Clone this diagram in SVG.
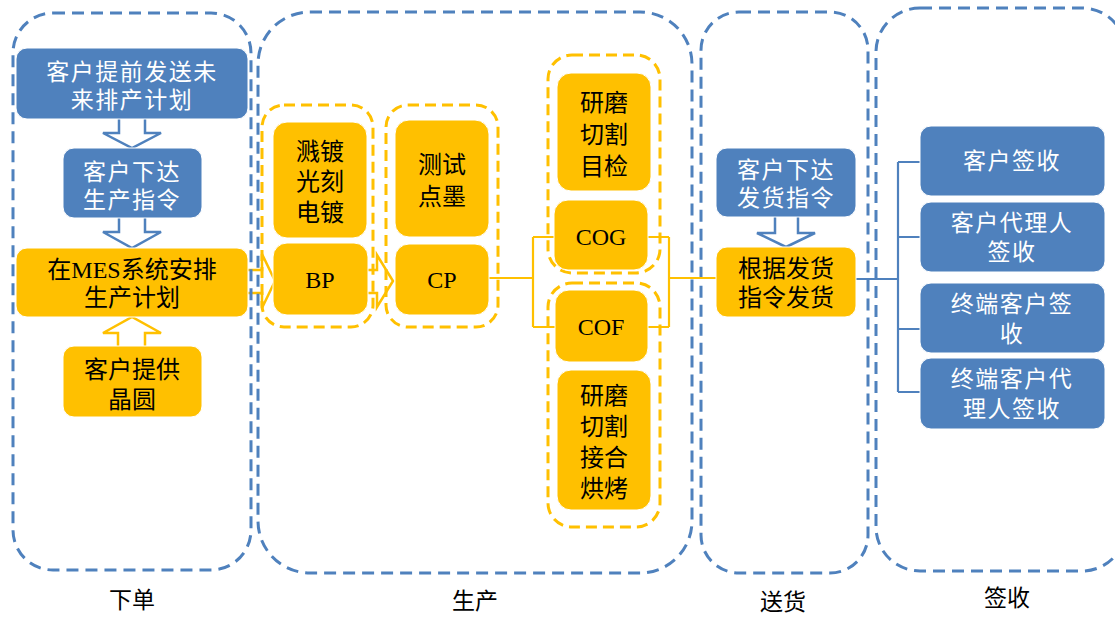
<svg xmlns="http://www.w3.org/2000/svg" width="1115" height="617" viewBox="0 0 1115 617">
<style>
.cont{fill:none;stroke:#4F81BD;stroke-width:3;stroke-dasharray:12 7}
.grp{fill:none;stroke:#FFC000;stroke-width:3;stroke-dasharray:11 6}
.bb{fill:#4F81BD;stroke:#ffffff;stroke-width:1}
.yb{fill:#FFC000;stroke:#ffffff;stroke-width:1}
.bt{font-family:"Noto Sans CJK SC","Noto Sans",sans-serif;font-size:23px;fill:#ffffff;text-anchor:middle;letter-spacing:1.5px}
.yt{font-family:"Liberation Serif","Noto Sans CJK SC",serif;font-size:24px;fill:#000000;text-anchor:middle}
.lbl{font-family:"Liberation Serif","Noto Sans CJK SC",serif;font-size:23px;fill:#000000;text-anchor:middle}
.ba{fill:#ffffff;stroke:#4F81BD;stroke-width:2.5;stroke-linejoin:miter}
.ya{fill:#ffffff;stroke:#FFC000;stroke-width:2.5;stroke-linejoin:miter}
.yl{fill:none;stroke:#FFC000;stroke-width:2.2}
.bl{fill:none;stroke:#4F81BD;stroke-width:2.2}
</style>
<rect width="1115" height="617" fill="#ffffff"/>
<g id="arrows">
<path class="ba" d="M119,115 L145,115 L145,133 L161,133 L132,148 L103,133 L119,133 Z"/>
<path class="ba" d="M119,214 L145,214 L145,232 L161,232 L132,248 L103,232 L119,232 Z"/>
<path class="ya" d="M118,350 L145,350 L145,333 L161,333 L132,317 L103,333 L118,333 Z"/>
<path class="ya" d="M244,270 L262,270 L262,254 L275,281 L262,308 L262,293 L244,293 Z"/>
<path class="ya" d="M364,270 L377,270 L377,255 L393,281 L377,307 L377,293 L364,293 Z"/>
<path class="ba" d="M775,212 L798,212 L798,233 L815,233 L786,247 L757,233 L775,233 Z"/>
</g>
<g id="containers">
<rect id="c-xiadan" class="cont" x="13" y="13" width="238" height="557" rx="40"/>
<rect id="c-shengchan" class="cont" x="258" y="12" width="434" height="561" rx="52"/>
<rect id="c-songhuo" class="cont" x="701" y="12" width="167" height="561" rx="38"/>
<rect id="c-qianshou" class="cont" x="876" y="8" width="250" height="563" rx="44"/>
<rect id="g-bp" class="grp" x="262" y="105" width="111" height="222" rx="22"/>
<rect id="g-cp" class="grp" x="386" y="105" width="112" height="222" rx="22"/>
<rect id="g-cog" class="grp" x="548" y="55" width="112" height="218" rx="24"/>
<rect id="g-cof" class="grp" x="548" y="283" width="112" height="244" rx="24"/>
</g>
<g id="connectors">
<path class="yl" d="M489,278 H533 M533,237 V327 M533,237 H555 M533,327 H555 M648,237 H669 M648,327 H669 M669,237 V327 M669,278 H716"/>
<path class="bl" d="M856,279 H898 M898,162 V392 M898,162 H920 M898,237 H920 M898,329 H920 M898,392 H920"/>
</g>
<g id="n1"><rect class="bb" x="16" y="48" width="232" height="71" rx="11"/><text class="bt" x="132" y="80">客户提前发送未</text><text class="bt" x="132" y="108">来排产计划</text></g>
<g id="n2"><rect class="bb" x="63" y="148" width="139" height="70" rx="11"/><text class="bt" x="132" y="180">客户下达</text><text class="bt" x="132" y="208">生产指令</text></g>
<g id="n3"><rect class="yb" x="16" y="248" width="232" height="69" rx="11"/><text class="yt" x="132" y="278">在MES系统安排</text><text class="yt" x="132" y="306">生产计划</text></g>
<g id="n4"><rect class="yb" x="63" y="346" width="139" height="71" rx="11"/><text class="yt" x="132" y="378">客户提供</text><text class="yt" x="132" y="408">晶圆</text></g>
<g id="n5"><rect class="yb" x="273" y="122" width="94" height="116" rx="14"/><text class="yt" x="320" y="160">溅镀</text><text class="yt" x="320" y="190">光刻</text><text class="yt" x="320" y="221">电镀</text></g>
<g id="n6"><rect class="yb" x="273" y="243" width="95" height="72" rx="14"/><text class="yt" x="320" y="288">BP</text></g>
<g id="n7"><rect class="yb" x="395" y="120" width="94" height="117" rx="14"/><text class="yt" x="442" y="173">测试</text><text class="yt" x="442" y="205">点墨</text></g>
<g id="n8"><rect class="yb" x="395" y="244" width="94" height="71" rx="14"/><text class="yt" x="442" y="288">CP</text></g>
<g id="n9"><rect class="yb" x="557" y="73" width="94" height="118" rx="14"/><text class="yt" x="604" y="111">研磨</text><text class="yt" x="604" y="143">切割</text><text class="yt" x="604" y="175">目检</text></g>
<g id="n10"><rect class="yb" x="554" y="200" width="94" height="70" rx="14"/><text class="yt" x="601" y="245">COG</text></g>
<g id="n11"><rect class="yb" x="555" y="290" width="93" height="72" rx="14"/><text class="yt" x="601" y="335">COF</text></g>
<g id="n12"><rect class="yb" x="557" y="370" width="94" height="140" rx="14"/><text class="yt" x="604" y="404">研磨</text><text class="yt" x="604" y="435">切割</text><text class="yt" x="604" y="466">接合</text><text class="yt" x="604" y="497">烘烤</text></g>
<g id="n13"><rect class="bb" x="716" y="148" width="140" height="69" rx="11"/><text class="bt" x="786" y="178">客户下达</text><text class="bt" x="786" y="206">发货指令</text></g>
<g id="n14"><rect class="yb" x="716" y="247" width="140" height="70" rx="11"/><text class="yt" x="786" y="277">根据发货</text><text class="yt" x="786" y="306">指令发货</text></g>
<g id="n15"><rect class="bb" x="920" y="126" width="185" height="70" rx="11"/><text class="bt" x="1012" y="169">客户签收</text></g>
<g id="n16"><rect class="bb" x="920" y="202" width="185" height="70" rx="11"/><text class="bt" x="1012" y="231">客户代理人</text><text class="bt" x="1012" y="260">签收</text></g>
<g id="n17"><rect class="bb" x="920" y="283" width="185" height="70" rx="11"/><text class="bt" x="1012" y="312">终端客户签</text><text class="bt" x="1012" y="342">收</text></g>
<g id="n18"><rect class="bb" x="920" y="358" width="185" height="71" rx="11"/><text class="bt" x="1012" y="387">终端客户代</text><text class="bt" x="1012" y="417">理人签收</text></g>
<g id="labels">
<text class="lbl" x="132" y="608">下单</text>
<text class="lbl" x="475" y="609">生产</text>
<text class="lbl" x="783" y="610">送货</text>
<text class="lbl" x="1007" y="606">签收</text>
</g>
</svg>
